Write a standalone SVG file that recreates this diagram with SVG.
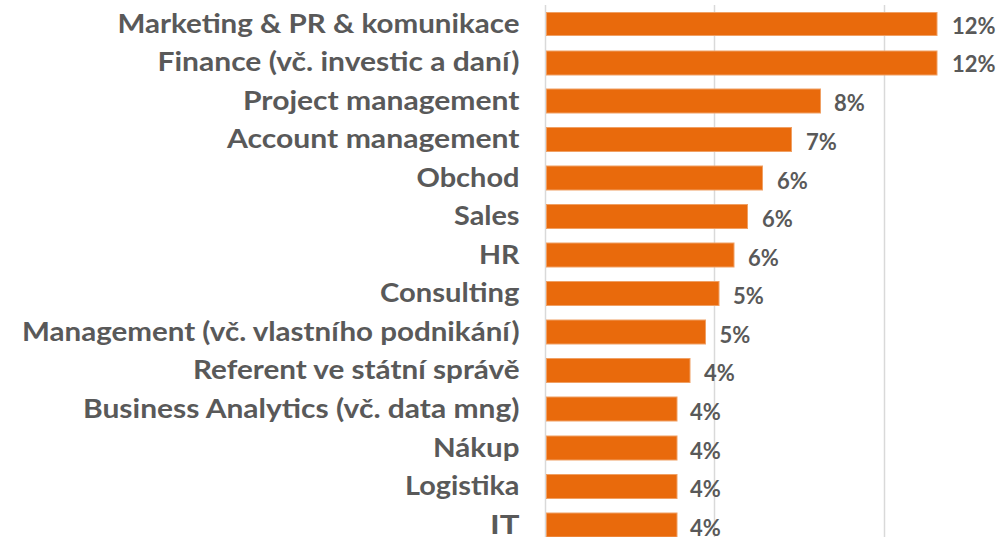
<svg xmlns="http://www.w3.org/2000/svg" width="1007" height="537" viewBox="0 0 1007 537">
<style>
.cat{font-family:Lato,"Open Sans","Liberation Sans",sans-serif;font-weight:700;font-size:26px;fill:#595959;text-anchor:end}
.val{font-family:Lato,"Open Sans","Liberation Sans",sans-serif;font-weight:700;font-size:22px;fill:#595959}
.bar{fill:#E96A0C;stroke:#F0A064;stroke-width:1}
.grid{stroke:#D9D9D9;stroke-width:1.5}
</style>
<rect width="1007" height="537" fill="#fff"/>
<g id="axes">
<line class="grid" x1="714.5" y1="5" x2="714.5" y2="537"/>
<line class="grid" x1="884.5" y1="5" x2="884.5" y2="537"/>
<line class="grid" x1="545.5" y1="5" x2="545.5" y2="537"/>
</g>
<g id="r1"><rect class="bar" x="546.5" y="12.5" width="390.5" height="23"/><text class="cat" x="519.5" y="32.5" textLength="402" lengthAdjust="spacingAndGlyphs">Marketing &amp; PR &amp; komunikace</text><text class="val" x="952" y="33.5">12%</text></g>
<g id="r2"><rect class="bar" x="546.5" y="51" width="390.5" height="24"/><text class="cat" x="519.5" y="71" textLength="362" lengthAdjust="spacingAndGlyphs">Finance (vč. investic a daní)</text><text class="val" x="952" y="72">12%</text></g>
<g id="r3"><rect class="bar" x="546.5" y="89" width="274" height="24"/><text class="cat" x="519.5" y="109.5" textLength="276.5" lengthAdjust="spacingAndGlyphs">Project management</text><text class="val" x="834" y="111">8%</text></g>
<g id="r4"><rect class="bar" x="546.5" y="127.5" width="245" height="24"/><text class="cat" x="519.5" y="148" textLength="292.5" lengthAdjust="spacingAndGlyphs">Account management</text><text class="val" x="806" y="150">7%</text></g>
<g id="r5"><rect class="bar" x="546.5" y="166" width="216" height="24"/><text class="cat" x="519.5" y="186.5" textLength="103" lengthAdjust="spacingAndGlyphs">Obchod</text><text class="val" x="777" y="188.5">6%</text></g>
<g id="r6"><rect class="bar" x="546.5" y="204.5" width="201" height="24"/><text class="cat" x="519.5" y="225" textLength="65.5" lengthAdjust="spacingAndGlyphs">Sales</text><text class="val" x="762" y="227">6%</text></g>
<g id="r7"><rect class="bar" x="546.5" y="243" width="187.5" height="24"/><text class="cat" x="519.5" y="263.5" textLength="40.5" lengthAdjust="spacingAndGlyphs">HR</text><text class="val" x="748" y="265.5">6%</text></g>
<g id="r8"><rect class="bar" x="546.5" y="281.5" width="172.5" height="24"/><text class="cat" x="519.5" y="302" textLength="139.5" lengthAdjust="spacingAndGlyphs">Consulting</text><text class="val" x="733" y="304">5%</text></g>
<g id="r9"><rect class="bar" x="546.5" y="320" width="159" height="24"/><text class="cat" x="519.5" y="340.5" textLength="497.5" lengthAdjust="spacingAndGlyphs">Management (vč. vlastního podnikání)</text><text class="val" x="719.5" y="342.5">5%</text></g>
<g id="r10"><rect class="bar" x="546.5" y="358.5" width="143.5" height="24"/><text class="cat" x="519.5" y="379" textLength="326.5" lengthAdjust="spacingAndGlyphs">Referent ve státní správě</text><text class="val" x="704" y="381">4%</text></g>
<g id="r11"><rect class="bar" x="546.5" y="397" width="130.5" height="24"/><text class="cat" x="519.5" y="417.5" textLength="436.5" lengthAdjust="spacingAndGlyphs">Business Analytics (vč. data mng)</text><text class="val" x="690" y="419.5">4%</text></g>
<g id="r12"><rect class="bar" x="546.5" y="436" width="130.5" height="24"/><text class="cat" x="519.5" y="456.5" textLength="86.5" lengthAdjust="spacingAndGlyphs">Nákup</text><text class="val" x="690" y="458.5">4%</text></g>
<g id="r13"><rect class="bar" x="546.5" y="474.5" width="130.5" height="24"/><text class="cat" x="519.5" y="495" textLength="114.5" lengthAdjust="spacingAndGlyphs">Logistika</text><text class="val" x="690" y="497">4%</text></g>
<g id="r14"><rect class="bar" x="546.5" y="513" width="130.5" height="24"/><text class="cat" x="519.5" y="533.5" textLength="29.5" lengthAdjust="spacingAndGlyphs">IT</text><text class="val" x="690" y="535.5">4%</text></g>
</svg>
